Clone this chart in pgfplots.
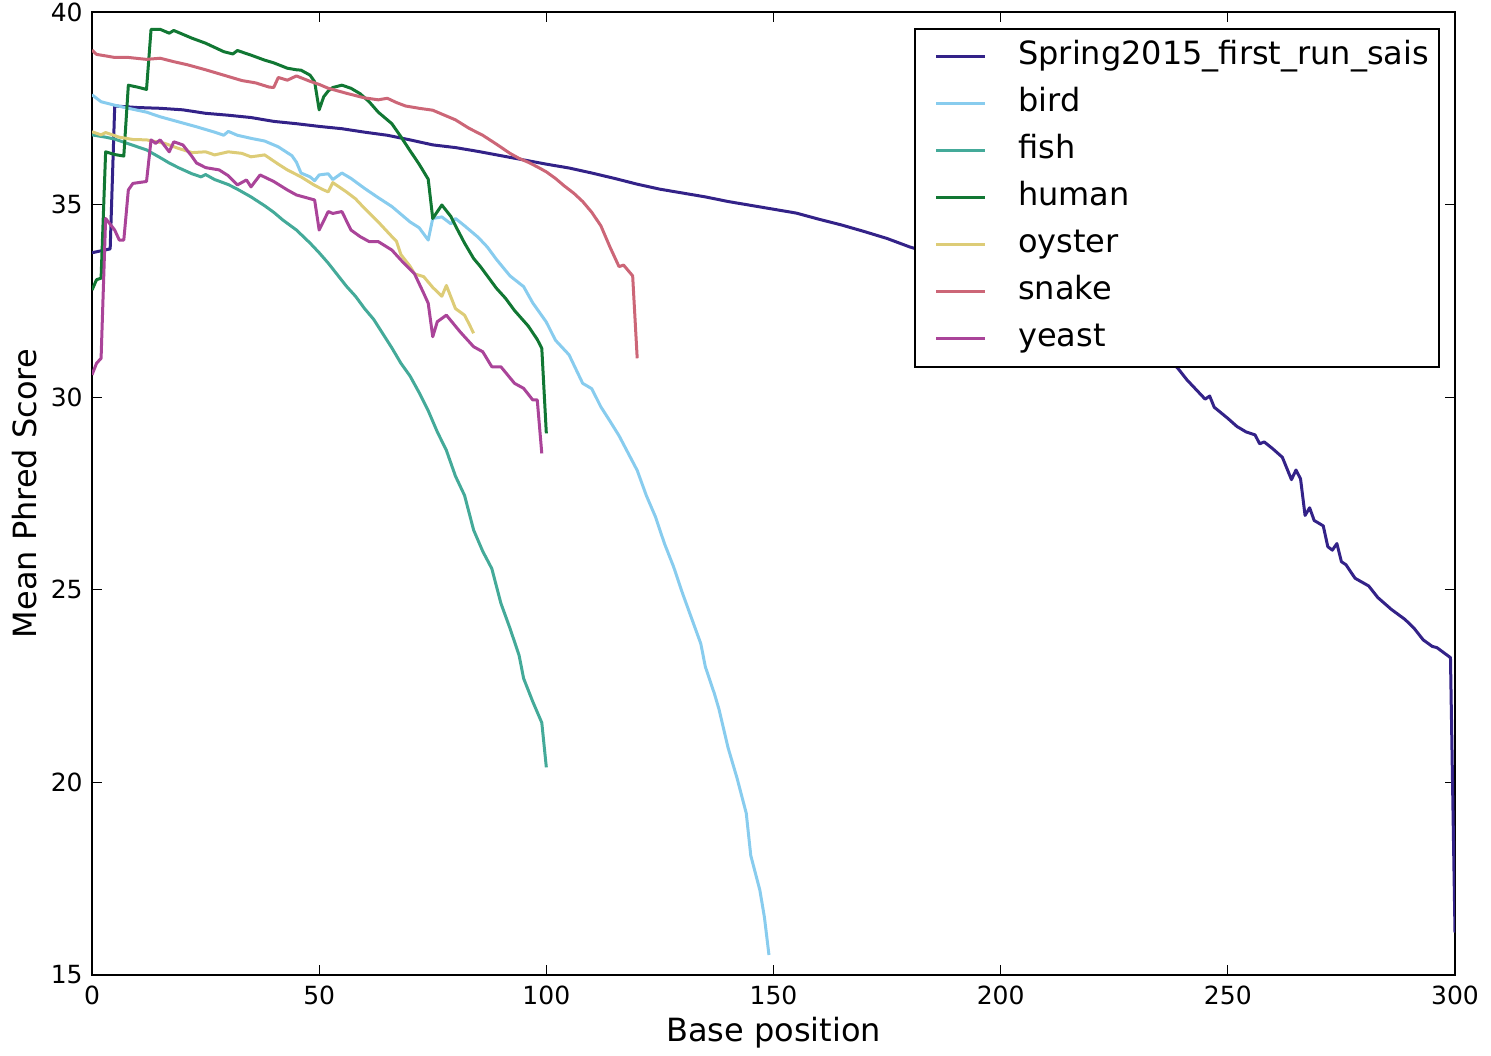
\documentclass[border=0pt]{standalone}
\usepackage{pgfplots}
\pgfplotsset{compat=1.18}
\usepackage{fontspec}
\setmainfont{DejaVu Sans}
\definecolor{csais}{HTML}{332288}
\definecolor{cbird}{HTML}{88CCEE}
\definecolor{cfish}{HTML}{44AA99}
\definecolor{chuman}{HTML}{117733}
\definecolor{coyster}{HTML}{DDCC77}
\definecolor{csnake}{HTML}{CC6677}
\definecolor{cyeast}{HTML}{AA4499}
\begin{document}
\begin{tikzpicture}
\path[use as bounding box] (-46pt,-40pt) rectangle (699.5pt,487.5pt);
\begin{axis}[
  at={(0pt,0pt)}, anchor=south west,
  scale only axis, width=681.5pt, height=481.5pt,
  xmin=0, xmax=300, ymin=15, ymax=40,
  xtick={0,50,...,300}, ytick={15,20,...,40},
  tick align=inside, major tick length=5pt,
  tick style={line width=0.6pt, black},
  axis line style={line width=1pt, black},
  /pgf/number format/assume math mode=true,
  tick label style={font=\fontsize{12.5}{15}\selectfont},
  xticklabel style={anchor=base, inner sep=0pt, yshift=-14.67pt},
  yticklabel style={anchor=east, inner sep=0pt, xshift=-4.5pt},
  title={Mean quality score by position},
  title style={at={(0.5,1)}, anchor=base, yshift=6.5pt, inner sep=0pt, font=\fontsize{16}{19}\selectfont},
  xlabel={Base position},
  xlabel style={at={(0.5,0)}, anchor=base, yshift=-33.3pt, inner sep=0pt, font=\fontsize{16}{19}\selectfont},
  ylabel={Mean Phred Score},
  ylabel style={at={(rel axis cs:-0.0492,0.5)}, rotate=0, anchor=center, inner sep=0pt, font=\fontsize{16}{19}\selectfont},
  every axis plot/.append style={line width=1.5pt, line join=round, mark=none},
  legend image code/.code={\draw[#1] (5.5pt,0pt) -- (30pt,0pt); \path[draw=none] (0pt,0pt) -- (46.5pt,0pt);},
  legend cell align=left,
  legend style={at={(1,1)}, anchor=north east, xshift=-7.5pt, yshift=-8pt,
    draw=black, line width=1pt, fill=white,
    font=\fontsize{16}{19}\selectfont,
    inner xsep=5pt, inner ysep=6pt, row sep=7.5pt, column sep=0pt,
    nodes={inner sep=0pt, text height=12pt, text depth=4pt}},
]
\addplot[csais] coordinates {
(0,33.75)(2,33.8)(4,33.85)(5,37.56)(10,37.52)(15,37.5)(20,37.46)(25,37.37)(30,37.32)(35,37.26)(40,37.16)(45,37.1)(50,37.03)(55,36.97)(60,36.88)(65,36.8)(70,36.68)(75,36.55)(80,36.48)(85,36.38)(90,36.27)(95,36.16)(100,36.05)(105,35.95)(110,35.82)(115,35.68)(120,35.53)(125,35.4)(130,35.3)(135,35.2)(140,35.08)(145,34.98)(150,34.88)(155,34.78)(160,34.62)(165,34.47)(170,34.3)(175,34.12)(180,33.9)(190,33.55)(200,33.15)(210,32.7)(220,32.2)(230,31.6)(236,31.1)(239,30.75)(241,30.45)(243,30.2)(245,29.95)(246,30.03)(247,29.74)(250,29.45)(252,29.24)(254,29.1)(256,29.02)(257,28.79)(258,28.84)(260,28.65)(262,28.44)(264,27.86)(265,28.11)(266,27.88)(267,26.93)(268,27.13)(269,26.8)(271,26.66)(272,26.12)(273,26.03)(274,26.2)(275,25.73)(276,25.65)(278,25.3)(281,25.1)(283,24.8)(286,24.49)(289,24.23)(291,24.0)(293,23.7)(295,23.53)(296,23.5)(299,23.24)(300,16.1)
};
\addplot[cbird] coordinates {
(0,37.85)(2,37.67)(5,37.58)(8,37.5)(12,37.4)(15,37.28)(19,37.15)(23,37.02)(27,36.88)(29,36.8)(30,36.9)(32,36.8)(35,36.72)(38,36.65)(41,36.5)(44,36.27)(45,36.1)(46,35.82)(48,35.72)(49,35.62)(50,35.77)(52,35.8)(53,35.65)(55,35.82)(57,35.68)(60,35.42)(63,35.18)(66,34.95)(68,34.75)(70,34.55)(72,34.4)(74,34.08)(75,34.64)(77,34.68)(79,34.5)(80,34.64)(82,34.45)(85,34.15)(87,33.9)(89,33.58)(92,33.15)(95,32.87)(97,32.45)(100,31.95)(102,31.48)(105,31.1)(108,30.36)(110,30.22)(112,29.75)(114,29.38)(116,29.0)(118,28.55)(120,28.1)(122,27.45)(124,26.9)(126,26.2)(128,25.6)(130,24.9)(132,24.25)(134,23.6)(135,23.0)(137,22.3)(138,21.9)(140,20.9)(142,20.1)(144,19.2)(145,18.1)(147,17.2)(148,16.5)(149,15.52)
};
\addplot[cfish] coordinates {
(0,36.81)(3,36.75)(5,36.7)(8,36.58)(10,36.5)(12,36.42)(15,36.22)(17,36.08)(19,35.96)(22,35.8)(24,35.72)(25,35.78)(27,35.65)(30,35.52)(32,35.4)(35,35.2)(38,34.97)(40,34.8)(42,34.6)(45,34.34)(48,34.0)(50,33.75)(52,33.48)(54,33.18)(56,32.88)(58,32.62)(60,32.3)(62,32.02)(64,31.65)(66,31.28)(68,30.88)(70,30.55)(72,30.12)(74,29.65)(76,29.1)(78,28.62)(80,27.95)(82,27.45)(84,26.55)(86,26.0)(88,25.55)(90,24.65)(92,24.0)(94,23.3)(95,22.7)(97,22.1)(99,21.55)(100,20.39)
};
\addplot[chuman] coordinates {
(0,32.78)(1,33.05)(2,33.09)(3,36.37)(5,36.3)(7,36.26)(8,38.1)(10,38.05)(12,37.99)(13,39.55)(15,39.55)(17,39.45)(18,39.52)(20,39.42)(22,39.32)(25,39.19)(27,39.08)(29,38.97)(31,38.91)(32,39.0)(35,38.88)(38,38.75)(40,38.68)(43,38.54)(45,38.5)(46,38.49)(48,38.36)(49,38.19)(50,37.46)(51,37.8)(52,37.95)(53,38.04)(55,38.1)(57,38.02)(59,37.88)(61,37.67)(63,37.4)(66,37.1)(68,36.76)(70,36.4)(72,36.05)(74,35.66)(75,34.64)(77,34.99)(79,34.69)(80,34.45)(82,34.0)(84,33.6)(85.5,33.39)(87,33.15)(89,32.83)(91,32.57)(93,32.25)(96,31.85)(98,31.5)(99,31.27)(100,29.06)
};
\addplot[coyster] coordinates {
(0,36.89)(2,36.81)(3,36.87)(6,36.75)(9,36.69)(12,36.68)(16,36.59)(19,36.46)(22,36.35)(25,36.37)(27,36.29)(30,36.37)(33,36.33)(35,36.24)(38,36.29)(41,36.05)(43,35.9)(46,35.72)(49,35.5)(51,35.38)(52,35.33)(53,35.57)(56,35.33)(58,35.15)(60,34.9)(63,34.55)(66,34.17)(67,34.05)(68,33.7)(70,33.4)(71,33.2)(73,33.13)(75,32.85)(77,32.62)(78,32.9)(80,32.3)(82,32.13)(83,31.9)(84,31.66)
};
\addplot[csnake] coordinates {
(0,39.01)(1,38.9)(2,38.88)(5,38.82)(8,38.82)(12,38.77)(15,38.8)(18,38.71)(21,38.63)(25,38.5)(29,38.36)(33,38.22)(36,38.16)(39,38.05)(40,38.04)(41,38.3)(43,38.23)(45,38.34)(48,38.2)(50,38.12)(52,38.02)(56,37.89)(60,37.77)(63,37.72)(65,37.76)(67,37.65)(69,37.56)(72,37.5)(75,37.45)(78,37.3)(80,37.2)(83,36.98)(86,36.8)(89,36.57)(92,36.33)(94,36.2)(96,36.1)(98,35.98)(100,35.85)(102,35.68)(104,35.48)(106,35.3)(108,35.08)(110,34.8)(112,34.45)(114,33.9)(116,33.39)(117,33.43)(119,33.15)(120,31.01)
};
\addplot[cyeast] coordinates {
(0,30.58)(1,30.88)(2,31.01)(3,34.64)(5,34.34)(6,34.08)(7,34.08)(8,35.38)(9,35.55)(12,35.6)(13,36.68)(14,36.59)(15,36.68)(17,36.37)(18,36.63)(20,36.55)(22,36.25)(23,36.08)(25,35.96)(28,35.9)(30,35.75)(32,35.51)(34,35.64)(35,35.46)(37,35.77)(40,35.6)(43,35.38)(45,35.25)(49,35.12)(50,34.34)(52,34.82)(53,34.77)(55,34.82)(57,34.34)(59,34.17)(61,34.04)(63,34.04)(66,33.82)(68,33.56)(71,33.2)(73,32.7)(74,32.44)(75,31.57)(76,31.96)(78,32.13)(81,31.7)(84,31.31)(86,31.18)(88,30.79)(90,30.79)(93,30.36)(95,30.23)(97,29.93)(98,29.93)(99,28.54)
};
\legend{Spring2015\_first\_run\_sais, bird, fish, human, oyster, snake, yeast}
\end{axis}
\end{tikzpicture}
\end{document}
